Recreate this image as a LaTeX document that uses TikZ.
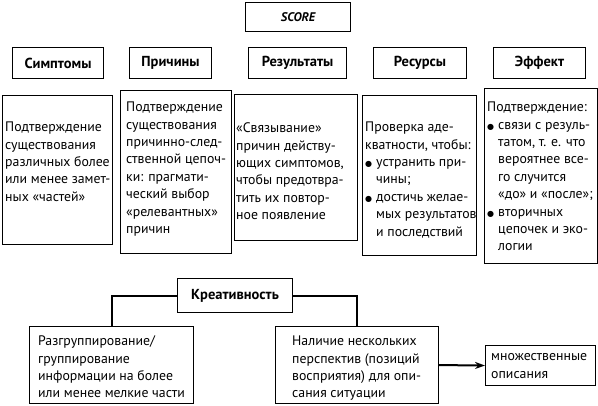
\documentclass[tikz,border=0pt]{standalone}
\usepackage{fontspec}
\setmainfont{PT Sans}
\newfontfamily\djfont{DejaVu Sans}
\usetikzlibrary{arrows.meta}
\newcommand\bul{\makebox[11pt][l]{\djfont\fontsize{8}{8}\selectfont ●}}
\newcommand\ind{\hspace*{11pt}}
\begin{document}
\begin{tikzpicture}[x=1pt,y=-1pt,
  box/.style={draw, line width=1.1pt, inner sep=0pt, anchor=north west},
  head/.style={font=\bfseries\fontsize{14.5}{16}\selectfont},
  txt/.style={anchor=north west, inner sep=0pt, align=left, font=\fontsize{13.8}{17.4}\selectfont},
  conn/.style={line width=2pt}]
\useasboundingbox (0,0) rectangle (598,406);
% title
\node[box, font=\bfseries\itshape\fontsize{12.5}{14}\selectfont, minimum width=105, minimum height=29] (score) at (245,2) {SCORE};
% headers
\node[box, head, minimum width=91, minimum height=31] (simp) at (12,47) {Симптомы};
\node[box, head, minimum width=82, minimum height=31] (prich) at (129,47) {Причины};
\node[box, head, minimum width=98, minimum height=31] (rez) at (248,47) {Результаты};
\node[box, head, minimum width=93, minimum height=31] (res) at (373,47) {Ресурсы};
\node[box, head, minimum width=92, minimum height=31] (eff) at (493,47) {Эффект};
% boxes
\node[box, minimum width=110, minimum height=149] (b1) at (2,95) {};
\node[box, minimum width=111, minimum height=163] (b2) at (120,90) {};
\node[box, minimum width=123, minimum height=146] (b3) at (234,94) {};
\node[box, minimum width=114, minimum height=160] (b4) at (362,95) {};
\node[box, minimum width=113, minimum height=175] (b5) at (484,88) {};
\node[txt] (t1) at (5,121.5) {\rule{0pt}{10pt}Подтверждение\\существования\\различных более\\или менее замет-\\ных «частей»};
\node[txt] (t2) at (126,101.5) {\rule{0pt}{10pt}Подтверждение\\существования\\причинно-след-\\ственной цепоч-\\ки: прагмати-\\ческий выбор\\«релевантных»\\причин};
\node[txt] (t3) at (236,122.5) {\rule{0pt}{10pt}«Связывание»\\причин действу-\\ющих симптомов,\\чтобы предотвра-\\тить их повтор-\\ное появление};
\node[txt] (t4) at (365,121.5) {\rule{0pt}{10pt}Проверка аде-\\кватности, чтобы:\\\bul устранить при-\\\ind чины;\\\bul достичь желае-\\\ind мых результатов\\\ind и последствий};
\node[txt] (t5) at (487,101.5) {\rule{0pt}{10pt}Подтверждение:\\\bul связи с резуль-\\\ind татом, т. е. что\\\ind вероятнее все-\\\ind го случится\\\ind «до» и «после»;\\\bul вторичных\\\ind цепочек и эко-\\\ind логии};
% bottom
\node[box, head, minimum width=115, minimum height=34] (kre) at (177,278) {Креативность};
\node[box, minimum width=164, minimum height=77] (bl) at (29,326) {};
\node[box, minimum width=163, minimum height=77] (br) at (275,326) {};
\node[box, minimum width=110, minimum height=40] (bm) at (485,345) {};
\node[txt] (tl) at (38,335.5) {\rule{0pt}{10pt}Разгруппирование/\\группирование\\информации на более\\или менее мелкие части};
\node[txt] (tr) at (292,335.5) {\rule{0pt}{10pt}Наличие нескольких\\перспектив (позиций\\восприятия) для опи-\\сания ситуации};
\node[txt] (tm) at (491,350.5) {\rule{0pt}{10pt}множественные\\описания};
\draw[conn] (kre.west) -| (bl.north);
\draw[conn] (kre.east) -| (br.north);
\draw[conn, -{Stealth[length=10pt,width=7pt]}] (br.east) -- (bm.west);
\end{tikzpicture}
\end{document}
